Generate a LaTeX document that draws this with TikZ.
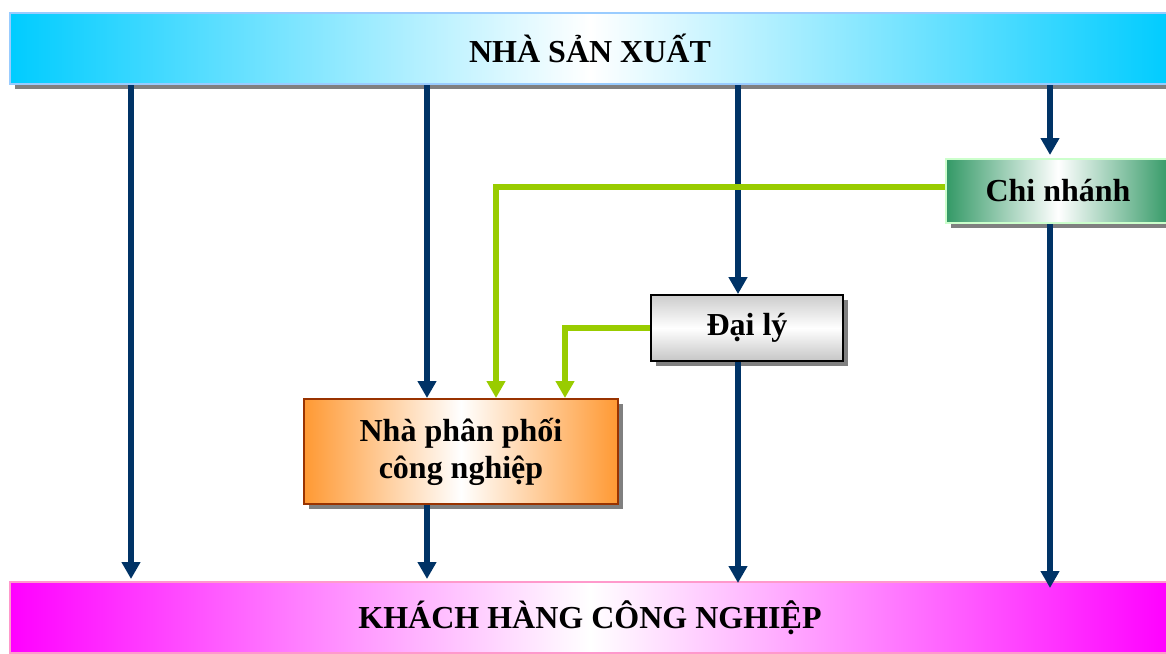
\documentclass[tikz,border=0pt]{standalone}
\usepackage{fontspec}
\setmainfont{Liberation Serif}
\usetikzlibrary{arrows.meta,shadows}

\definecolor{navyline}{HTML}{003366}
\definecolor{limeline}{HTML}{99CC00}
\definecolor{skyfill}{HTML}{00CCFF}
\definecolor{skyedge}{HTML}{99CCFF}
\definecolor{magfill}{HTML}{FF00FF}
\definecolor{magedge}{HTML}{FF99CC}
\definecolor{seafill}{HTML}{339966}
\definecolor{seaedge}{HTML}{CCFFCC}
\definecolor{orangefill}{HTML}{FF9933}
\definecolor{rustedge}{HTML}{993300}
\definecolor{shadowgray}{HTML}{808080}

\tikzset{
  labelfont/.style={font=\fontsize{32}{37}\selectfont\bfseries},
  solidshadow/.style={drop shadow={shadow xshift=5pt,shadow yshift=-5pt,fill=shadowgray,opacity=1}},
  bar/.style={labelfont, line width=2pt, minimum width=1160pt, minimum height=71pt, inner sep=0pt},
  box/.style={labelfont, line width=2pt, align=center, inner sep=0pt, solidshadow},
  flow/.style={draw=navyline, line width=5.5pt, -{Triangle[length=17pt,width=18pt]}},
  feed/.style={draw=limeline, line width=6pt, line join=miter, -{Triangle[length=17pt,width=18pt]}},
}

\begin{document}
\begin{tikzpicture}[x=1pt,y=-1pt]
\useasboundingbox (0,0) rectangle (1166,653);
\clip (0,0) rectangle (1166,653);

% producer and customer bars
\node[bar, solidshadow, draw=skyedge, left color=skyfill, right color=skyfill, middle color=white]
  (maker) at (590,48.5) {NHÀ SẢN XUẤT};
\node[bar, draw=magedge, left color=magfill, right color=magfill, middle color=white]
  (client) at (590,617.5) {KHÁCH HÀNG CÔNG NGHIỆP};

% intermediaries
\node[box, draw=seaedge, left color=seafill, right color=seafill, middle color=white,
  minimum width=224pt, minimum height=64pt] (branch) at (1058,191) {Chi nhánh};
\node[box, draw=black, line width=1.8pt, top color=gray!40, bottom color=gray!45, middle color=white,
  minimum width=192pt, minimum height=66pt] (agent) at (747,328) {Đại lý};
\node[box, draw=rustedge, left color=orangefill, right color=orangefill, middle color=white,
  minimum width=314pt, minimum height=105pt] (dist) at (461,451.5) {Nhà phân phối\\công nghiệp};

% column positions and arrow ends
\coordinate (e1) at (131,579);
\coordinate (e2) at (427,579);
\coordinate (e3) at (738,583);
\coordinate (e4) at (1050,588);
\coordinate (t4) at (1050,155);
\coordinate (g1) at (496,0);
\coordinate (g2) at (565,0);

% product flows
\draw[flow] (maker.south -| e1) -- (e1);
\draw[flow] (maker.south -| e2) -- (dist.north -| e2);
\draw[flow] (dist.south -| e2) -- (e2);
\draw[flow] (maker.south -| e3) -- (agent.north -| e3);
\draw[flow] (agent.south -| e3) -- (e3);
\draw[flow] (maker.south -| t4) -- (t4);
\draw[flow] (branch.south -| e4) -- (e4);

% supply links into the distributor
\draw[feed] ([yshift=4pt]branch.west) -| (dist.north -| g1);
\draw[feed] (agent.west) -| (dist.north -| g2);
\end{tikzpicture}
\end{document}
